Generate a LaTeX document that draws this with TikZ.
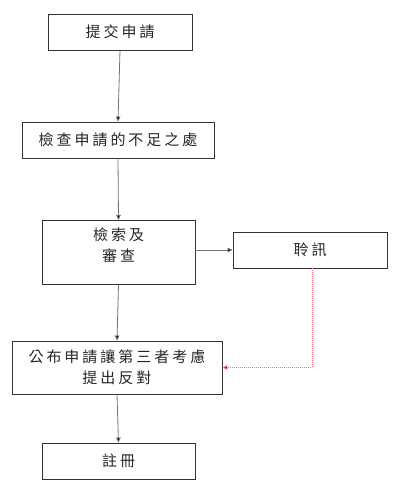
\documentclass[tikz,border=0pt]{standalone}
\usepackage{fontspec}
\newfontfamily\cjk[LetterSpace=20]{Noto Sans CJK TC}
\usetikzlibrary{arrows.meta}
\tikzset{
  box/.style={draw=black!80, line width=0.9pt, fill=white, inner sep=0pt, font=\cjk\fontsize{15}{21}\selectfont, align=center, text=black!85},
  flow/.style={draw=black!55, line width=0.8pt, -{Triangle[length=5pt,width=4.5pt,fill=black]}},
  hear/.style={draw=red!55, line width=0.6pt, dash pattern=on 1pt off 1pt, -{Triangle[length=5pt,width=4.5pt,fill=red]}}
}
\begin{document}
\begin{tikzpicture}[x=1pt,y=-1pt]
\useasboundingbox[fill=white] (0,0) rectangle (403,491);
\node[box, minimum width=144pt, minimum height=36pt] (submit) at (120,32) {提交申請};
\node[box, minimum width=192pt, minimum height=36pt] (check) at (118,140) {檢查申請的不足之處};
\node[box, minimum width=153pt, minimum height=64pt, text depth=15pt, anchor=north] (search) at (118.5,220) {檢索及\\審查};
\node[box, minimum width=154pt, minimum height=36pt] (hearing) at (310,250) {聆訊};
\node[box, minimum width=210pt, minimum height=53pt] (publish) at (117,367.5) {公布申請讓第三者考慮\\提出反對};
\node[box, minimum width=153pt, minimum height=36pt] (register) at (118.5,461) {註冊};
\draw[flow] (submit.south) -- (check.north);
\draw[flow] (check.south) -- (search.north);
\draw[flow] (search.east |- hearing.west) -- (hearing.west);
\draw[flow] (search.south) -- (publish.north);
\draw[flow] (publish.south) -- (register.north);
\coordinate (bend) at (312,367.5);
\draw[hear] (hearing.south -| bend) -- (bend) -- (publish.east);
\end{tikzpicture}
\end{document}
